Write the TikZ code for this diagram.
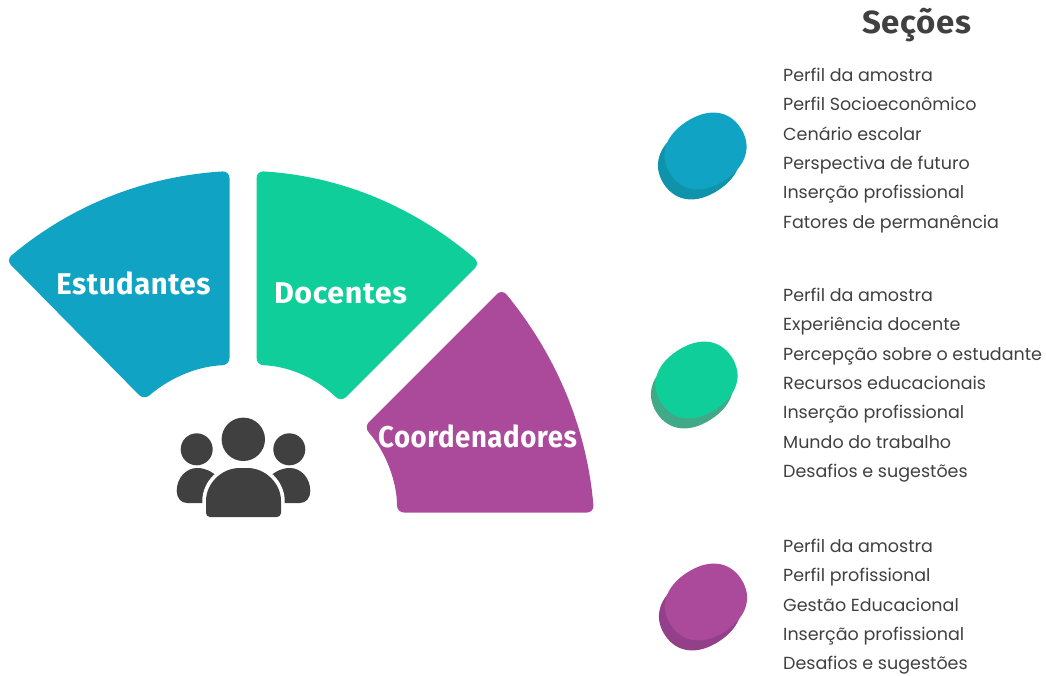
\documentclass[tikz,border=0pt]{standalone}
\usepackage{fontspec}
\setmainfont{Poppins}
\newfontfamily\headfont[LetterSpace=2]{Fira Sans}
\definecolor{blueA}{HTML}{10A3C3}
\definecolor{blueB}{HTML}{0F93AB}
\definecolor{greenA}{HTML}{0FCE9A}
\definecolor{greenB}{HTML}{41A987}
\definecolor{purpleA}{HTML}{AB4A9B}
\definecolor{purpleB}{HTML}{93408A}
\definecolor{ink}{HTML}{404040}
\newcommand\stepy{29.3}

\begin{document}
\begin{tikzpicture}[x=1pt, y=-1pt,
  sector/.style={rounded corners=7pt},
  sectorlabel/.style={text=white, inner sep=0pt, font=\headfont\bfseries\fontsize{30}{30}\selectfont},
  item/.style={anchor=base west, inner sep=0pt, text=ink, font=\fontsize{17.5}{20}\selectfont},
  pics/blob/.style={code={\fill[#1, rotate=33] (-42,0) .. controls (-42,-21.5) and (-26,-35) .. (0,-35)
      .. controls (26,-35) and (42,-21.5) .. (42,0) .. controls (42,21.5) and (26,35) .. (0,35)
      .. controls (-26,35) and (-42,21.5) .. (-42,0) -- cycle;}}]
\useasboundingbox (0,0) rectangle (1046,675);

    %sectors
    \fill[sector, blueA] (6,260) .. controls (74,203) and (148,176) .. (229.5,171)
        -- (229.5,365) .. controls (200,366) and (172,376) .. (144,400) -- cycle;
    \fill[sector, greenA] (256.5,171) .. controls (339,176) and (412,205) .. (480,263)
        -- (341,402) .. controls (314,376) and (286,366) .. (256.5,365) -- cycle;
    \fill[sector, purpleA] (502,289) .. controls (557,356) and (587,429) .. (594,512.5)
        -- (397,512.5) .. controls (397,482) and (386,452) .. (364,427) -- cycle;

    \node[sectorlabel, xscale=.975] (est) at (133.5,283) {Estudantes};
    \node[sectorlabel, xscale=1.015] (doc) at (340.5,293) {Docentes};
    \node[sectorlabel, xscale=.92] (coord) at (477.5,436) {Coordenadores};

    %people icon
    \fill[ink] (243.3,439.3) circle (21.7);
    \fill[ink] (196.7,449.3) circle (16);
    \fill[ink] (289.3,449.3) circle (16);
    \fill[ink] (218,503) -- (187,503) .. controls (181,503) and (176.7,498) .. (176.7,491)
        .. controls (176.7,478) and (186,468) .. (197,468)
        .. controls (205,468) and (211,471) .. (218,477) -- cycle;
    \fill[ink] (269,503) -- (300,503) .. controls (306,503) and (310.3,498) .. (310.3,491)
        .. controls (310.3,478) and (301,468) .. (290,468)
        .. controls (282,468) and (276,471) .. (269,477) -- cycle;
    \path[fill=ink, rounded corners=4pt, preaction={draw=white, line width=7.4pt}]
        (206,517) -- (206,505) .. controls (206,483) and (222,468) .. (243.5,468)
        .. controls (265,468) and (281,483) .. (281,505) -- (281,517) -- cycle;

    %blobs
    \pic (b1back) at (699,161) {blob=blueB};
    \pic (b1) at (705.5,151) {blob=blueA};
    \pic (b2back) at (692,390) {blob=greenB};
    \pic (b2) at (696.5,380) {blob=greenA};
    \pic (b3back) at (700,612) {blob=purpleB};
    \pic (b3) at (706,602) {blob=purpleA};

    %lists
    \node[anchor=center, inner sep=0pt, text=ink, xscale=1.03, font=\headfont\bfseries\fontsize{32}{32}\selectfont] (title) at (916.5,25.5) {Seções};
    \foreach \txt [count=\i] in {Perfil da amostra, Perfil Socioeconômico, Cenário escolar, Perspectiva de futuro, Inserção profissional, Fatores de permanência}
        \node[item] (a\i) at (783,{81.5+\stepy*(\i-1)}) {\txt};
    \foreach \txt [count=\i] in {Perfil da amostra, Experiência docente, Percepção sobre o estudante, Recursos educacionais, Inserção profissional, Mundo do trabalho, Desafios e sugestões}
        \node[item] (d\i) at (783,{301.5+\stepy*(\i-1)}) {\txt};
    \foreach \txt [count=\i] in {Perfil da amostra, Perfil profissional, Gestão Educacional, Inserção profissional, Desafios e sugestões}
        \node[item] (c\i) at (783,{552.5+\stepy*(\i-1)}) {\txt};
\end{tikzpicture}
\end{document}
